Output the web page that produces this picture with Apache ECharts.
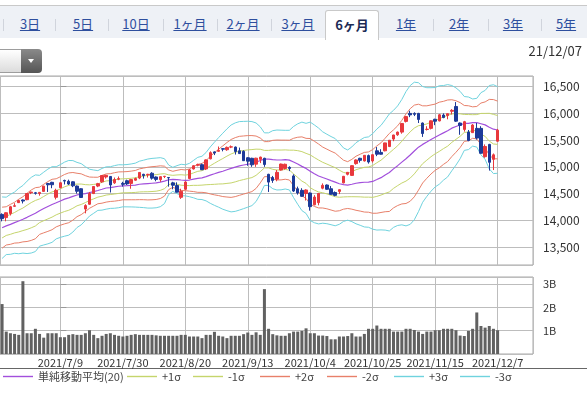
<!DOCTYPE html>
<html>
<head>
<meta charset="utf-8">
<script src="https://cdn.jsdelivr.net/npm/echarts@6/dist/echarts.min.js"></script>
<style>
html,body{margin:0;padding:0;background:#fff;width:587px;height:395px;overflow:hidden;font-family:"Noto Sans CJK JP","Noto Sans",sans-serif}
#chart{position:absolute;left:0;top:0;width:587px;height:395px}
#tabs{position:absolute;left:0;top:5px;width:587px;height:32px;background:#eef1f6;border-top:1px solid #c9c9c9;z-index:2}
.tab{position:absolute;top:10px;transform:translateX(-50%);font-size:13px;line-height:16px;color:#2e4f9e;text-decoration:underline;white-space:nowrap}
.sep{position:absolute;top:13px;width:1px;height:12px;background:#d0d4dc}
#active{position:absolute;left:325px;top:4px;width:52px;height:29px;background:#fff;border:1px solid #c9c9c9;border-bottom:none;border-radius:3px 3px 0 0}
#active span{position:absolute;left:50%;top:6px;transform:translateX(-50%);font-size:13px;line-height:16px;font-weight:bold;color:#1c2b55;white-space:nowrap}
#dd{position:absolute;left:-6px;top:49px;width:48px;height:24px;z-index:2}
#ddl{position:absolute;left:0;top:0;width:27px;height:22px;border:1px solid #9d9d9d;border-right:none;background:linear-gradient(#ffffff,#dcdcdc);border-radius:4px 0 0 4px}
#ddr{position:absolute;left:27px;top:0;width:21px;height:24px;background:linear-gradient(#8a8a8a,#555);border-radius:0 4px 4px 0}
#ddr:after{content:"";position:absolute;left:7px;top:10px;border-left:3.5px solid transparent;border-right:3.5px solid transparent;border-top:4px solid #fff}
</style>
</head>
<body>
<div id="chart"></div>
<div id="tabs">
  <div class="sep" style="left:3px"></div>
  <span class="tab" style="left:30px">3日</span>
  <div class="sep" style="left:55px"></div>
  <span class="tab" style="left:83px">5日</span>
  <div class="sep" style="left:108px"></div>
  <span class="tab" style="left:136px">10日</span>
  <div class="sep" style="left:163px"></div>
  <span class="tab" style="left:190px">1ヶ月</span>
  <div class="sep" style="left:217px"></div>
  <span class="tab" style="left:243px">2ヶ月</span>
  <div class="sep" style="left:271px"></div>
  <span class="tab" style="left:298px">3ヶ月</span>
  <div id="active"><span>6ヶ月</span></div>
  <span class="tab" style="left:406px">1年</span>
  <div class="sep" style="left:433px"></div>
  <span class="tab" style="left:459px">2年</span>
  <div class="sep" style="left:488px"></div>
  <span class="tab" style="left:513px">3年</span>
  <div class="sep" style="left:541px"></div>
  <span class="tab" style="left:566px">5年</span>
</div>
<div id="dd"><div id="ddl"></div><div id="ddr"></div></div>
<script>
// ---- data ----
const dates = ['6/18','6/21','6/22','6/23','6/24','6/25','6/28','6/29','6/30','7/1',
'7/2','7/6','7/7','7/8','7/9','7/12','7/13','7/14','7/15','7/16',
'7/19','7/20','7/21','7/22','7/23','7/26','7/27','7/28','7/29','7/30',
'8/2','8/3','8/4','8/5','8/6','8/9','8/10','8/11','8/12','8/13',
'8/16','8/17','8/18','8/19','8/20','8/23','8/24','8/25','8/26','8/27',
'8/30','8/31','9/1','9/2','9/3','9/7','9/8','9/9','9/10','9/13',
'9/14','9/15','9/16','9/17','9/20','9/21','9/22','9/23','9/24','9/27',
'9/28','9/29','9/30','10/1','10/4','10/5','10/6','10/7','10/8','10/11',
'10/12','10/13','10/14','10/15','10/18','10/19','10/20','10/21','10/22','10/25',
'10/26','10/27','10/28','10/29','11/1','11/2','11/3','11/4','11/5','11/8',
'11/9','11/10','11/11','11/12','11/15','11/16','11/17','11/18','11/19','11/22',
'11/23','11/24','11/26','11/29','11/30','12/1','12/2','12/3','12/6','12/7'];

const open = [14110,14050,14127,14262,14330,14380,14385,14515,14515,14500,
14540,14688,14710,14430,14610,14745,14730,14720,14640,14590,
14210,14300,14500,14640,14720,14810,14820,14700,14770,14690,
14740,14690,14750,14790,14860,14850,14880,14810,14760,14820,
14800,14700,14650,14430,14580,14780,14960,15030,15040,14960,
15150,15280,15290,15340,15320,15370,15370,15300,15290,15170,
15160,15050,15140,15160,14860,14800,14770,14940,14970,14990,
14830,14590,14560,14500,14510,14290,14330,14600,14660,14590,
14520,14540,14700,14860,14840,15060,15160,15110,15210,15110,
15300,15270,15300,15380,15520,15600,15650,15850,16000,16000,
16000,15820,15700,15720,15890,15860,15970,15960,16040,16130,
15820,15700,15650,15640,15720,15720,15190,15420,15140,15480];

const close = [14030,14141,14253,14272,14370,14360,14501,14528,14504,14522,
14639,14664,14665,14560,14702,14733,14678,14645,14543,14427,
14275,14499,14632,14685,14837,14841,14661,14763,14778,14673,
14681,14761,14781,14895,14836,14860,14788,14765,14816,14823,
14794,14656,14526,14542,14715,14943,15020,15042,14946,15130,
15266,15259,15309,15331,15364,15374,15287,15248,15115,15106,
15038,15162,15182,15044,14714,14746,14897,15052,15048,14970,
14547,14512,14449,14567,14255,14434,14502,14654,14580,14486,
14466,14572,14823,14897,15022,15129,15122,15216,15090,15227,
15236,15236,15448,15498,15596,15650,15812,15940,15972,15982,
15887,15623,15704,15861,15854,15974,15922,15994,16057,15855,
15775,15845,15492,15783,15538,15254,15381,15085,15225,15687];

const high = [14130,14150,14270,14320,14385,14390,14507,14535,14530,14530,
14645,14700,14720,14590,14710,14760,14760,14730,14650,14600,
14300,14530,14640,14700,14840,14850,14825,14800,14820,14720,
14760,14770,14800,14900,14870,14870,14900,14820,14820,14830,
14810,14720,14710,14590,14730,14960,15030,15060,15060,15140,
15290,15290,15380,15350,15380,15400,15380,15360,15310,15180,
15170,15170,15190,15170,14870,14830,14940,15060,15060,15010,
14860,14630,14600,14580,14520,14470,14510,14690,14670,14640,
14540,14580,14830,14900,15030,15140,15170,15220,15230,15230,
15370,15330,15450,15500,15600,15660,15820,15950,16050,16020,
16010,15830,15760,15870,15900,15990,16000,16000,16080,16212,
15830,15860,15690,15800,15820,15760,15420,15430,15250,15710];

const low = [13980,13980,14090,14250,14325,14315,14375,14490,14480,14460,
14537,14530,14600,14390,14600,14670,14660,14620,14500,14420,
14130,14290,14490,14620,14700,14780,14520,14680,14750,14630,
14660,14590,14740,14770,14780,14800,14760,14730,14720,14790,
14630,14580,14520,14400,14570,14770,14950,15010,14940,14940,
15140,15220,15280,15290,15300,15350,15230,15240,15110,15020,
15000,15000,15070,15000,14530,14700,14730,14930,14950,14920,
14530,14480,14440,14370,14180,14280,14280,14580,14570,14480,
14450,14490,14690,14840,14830,15040,15080,15100,15060,15080,
15200,15230,15290,15370,15480,15580,15620,15830,15930,15950,
15820,15560,15680,15700,15780,15850,15910,15890,15980,15840,
15600,15660,15480,15640,15510,15250,15170,14930,14940,15470];

// volume, in billions
const volume = [2.14,0.96,0.89,0.86,0.82,3.12,0.89,0.89,1.08,0.86,
0.70,0.89,0.89,0.89,0.72,0.72,0.82,0.85,0.82,0.82,
0.89,1.02,0.82,0.68,0.78,0.86,0.89,0.82,0.78,0.75,
0.78,0.82,0.85,0.82,0.82,0.82,0.82,0.80,0.78,0.78,
0.78,0.78,0.78,0.82,0.82,0.75,0.75,0.75,0.68,0.82,
0.82,0.95,0.78,0.75,0.68,0.78,0.78,0.78,0.85,0.92,
0.82,0.93,0.82,2.78,1.08,0.85,0.80,0.78,0.78,0.89,
0.96,0.96,0.99,1.10,0.89,0.89,0.79,0.79,0.77,0.63,
0.63,0.75,0.75,0.77,0.89,0.75,0.75,0.86,1.08,1.08,
1.22,1.08,1.08,1.08,0.96,0.96,0.96,1.08,1.08,1.03,
0.96,0.86,0.96,0.96,1.02,1.02,1.08,1.08,1.08,1.02,
0.79,0.77,0.99,1.08,1.78,1.20,1.13,1.20,1.08,1.02];

// 20-day simple moving average and its standard deviation
const sma20 = [13861,13895,13924,13955,13986,14018,14055,14095,14132,14178,
14219,14258,14295,14327,14361,14395,14420,14448,14474,14487,
14499,14517,14536,14557,14580,14604,14612,14624,14637,14645,
14647,14652,14658,14674,14681,14687,14693,14699,14713,14732,
14758,14766,14761,14754,14748,14753,14771,14785,14793,14816,
14845,14870,14896,14918,14945,14970,14995,15019,15034,15049,
15061,15086,15119,15144,15144,15134,15128,15128,15134,15126,
15090,15052,15009,14971,14916,14869,14829,14800,14773,14742,
14713,14684,14666,14659,14674,14693,14704,14712,14715,14727,
14762,14798,14848,14895,14962,15022,15088,15152,15222,15297,
15368,15420,15464,15512,15554,15596,15636,15675,15724,15755,
15782,15812,15815,15829,15826,15806,15785,15742,15705,15690];

const sigma = [192,179,187,191,204,211,226,236,239,221,
227,233,236,225,227,231,233,223,203,191,
168,146,135,124,130,132,130,133,134,131,
132,134,137,144,148,153,155,155,153,140,
92,75,87,98,97,104,117,131,135,151,
176,197,217,237,255,271,276,276,272,268,
262,245,210,164,164,181,187,186,183,186,
222,251,276,281,307,305,299,285,279,275,
272,253,229,219,233,253,266,279,282,298,
315,326,344,365,365,373,391,419,433,429,
402,361,339,323,310,307,295,288,266,241,
210,168,164,147,152,194,215,260,277,270];

const xTickLabels = ['2021/7/9','2021/7/30','2021/8/20','2021/9/13','2021/10/4','2021/10/25','2021/11/15','2021/12/7'];
const bandNames = ['+1σ','-1σ','+2σ','-2σ','+3σ','-3σ'];
const bandK = [1,-1,2,-2,3,-3];
const smaName = '単純移動平均(20)';

// ---- chart ----
const EMPTY_SLOTS = 8;
const cats = dates.concat(new Array(EMPTY_SLOTS).fill(''));
const FONT = '"Noto Sans CJK JP","Noto Sans",sans-serif';
const GRID_COLOR = '#bdbdbd';
const BORDER = '#a9a9a9';
const UP = '#e8383d', DOWN = '#1d3a98';
const bandColors = {'+1σ':'#c5d56c','-1σ':'#c5d56c','+2σ':'#e8806a','-2σ':'#e8806a','+3σ':'#6fd3de','-3σ':'#6fd3de'};
const SMA_COLOR = '#a24fdc';

const candles = dates.map((d,i)=>[open[i], close[i], low[i], high[i]]);

const chart = echarts.init(document.getElementById('chart'), null, {renderer:'canvas'});

const gridBase = {left:-1, right:54, show:true, borderColor:BORDER, borderWidth:1, backgroundColor:'#fff'};
const vLineAxis = (gridIndex, showLabels) => ({
  type:'value', gridIndex, position:'bottom',
  min:-14.5, max:cats.length-0.5-14, minInterval:15, maxInterval:15,
  axisLine:{show:false}, axisTick:{show:false},
  splitLine:{show:true, lineStyle:{color:GRID_COLOR, width:1}},
  axisLabel:{show:showLabels, showMinLabel:false, showMaxLabel:false, margin:3,
    fontSize:11, color:'#333', fontFamily:FONT,
    formatter:(v)=>{const k=Math.round(v/15);return (Math.abs(v-15*k)<1e-6&&k>=0&&k<xTickLabels.length)?xTickLabels[k]:'';}}
});

const legends = [
  {name:smaName, left:3},
  {name:'+1σ', left:127},
  {name:'-1σ', left:193},
  {name:'+2σ', left:260},
  {name:'-2σ', left:327},
  {name:'+3σ', left:394},
  {name:'-3σ', left:460}
].map(l=>({data:[l.name], left:l.left, top:371, padding:0, icon:'rect', itemWidth:30, itemHeight:1.4,
  selectedMode:false, textStyle:{fontSize:11, color:'#444', fontFamily:FONT, padding:[0,0,0,0]}}));

const bandSeries = bandNames.map((n,j)=>({
  name:n, type:'line', xAxisIndex:0, yAxisIndex:0, showSymbol:false, symbol:'none', z:3,
  lineStyle:{width:1, color:bandColors[n]}, itemStyle:{color:bandColors[n]},
  data: sma20.map((m,i)=>m + bandK[j]*sigma[i]), silent:true, animation:false
}));

chart.setOption({
  animation:false,
  title:{text:'21/12/07', right:5, top:45, padding:0,
    textStyle:{fontSize:13, fontWeight:'normal', color:'#333', fontFamily:FONT}},
  legend: legends,
  grid:[
    Object.assign({top:76, height:189}, gridBase),
    Object.assign({top:277, height:77}, gridBase)
  ],
  xAxis:[
    {type:'category', gridIndex:0, data:cats, boundaryGap:true,
      axisLine:{show:false}, axisTick:{show:false}, axisLabel:{show:false}, splitLine:{show:false}},
    vLineAxis(0,false),
    {type:'category', gridIndex:1, data:cats, boundaryGap:true,
      axisLine:{show:false}, axisTick:{show:false}, axisLabel:{show:false}, splitLine:{show:false}},
    vLineAxis(1,true)
  ],
  yAxis:[
    {type:'value', gridIndex:0, position:'right', min:13163, max:16700, minInterval:500, maxInterval:500,
      axisLine:{show:false},
      axisTick:{show:true, inside:false, length:6, lineStyle:{color:'#999'}},
      splitLine:{show:true, lineStyle:{color:GRID_COLOR}},
      axisLabel:{show:true, margin:10, showMinLabel:false, showMaxLabel:false, fontSize:12, color:'#333', fontFamily:FONT,
        formatter:(v)=>Math.round(v).toLocaleString('en-US')}},
    {type:'value', gridIndex:1, position:'right', min:0, max:3.3, minInterval:1, maxInterval:1,
      axisLine:{show:false},
      axisTick:{show:true, inside:false, length:6, lineStyle:{color:'#999'}},
      splitLine:{show:true, lineStyle:{color:GRID_COLOR}},
      axisLabel:{show:true, margin:10, showMinLabel:false, showMaxLabel:false, fontSize:11, color:'#333', fontFamily:FONT,
        formatter:(v)=>Math.round(v)+'B'}}
  ],
  graphic:[
    {type:'rect', shape:{x:0, y:368, width:587, height:1}, style:{fill:'#666'}, silent:true}
  ],
  series:[
    {name:smaName, type:'line', xAxisIndex:0, yAxisIndex:0, showSymbol:false, symbol:'none', z:3,
      lineStyle:{width:1.2, color:SMA_COLOR}, itemStyle:{color:SMA_COLOR}, data:sma20, silent:true},
    ...bandSeries,
    {name:'price', type:'candlestick', xAxisIndex:0, yAxisIndex:0, z:5, barWidth:3,
      itemStyle:{color:UP, color0:DOWN, borderColor:UP, borderColor0:DOWN, borderWidth:1},
      data:candles, silent:true},
    {name:'volume', type:'bar', xAxisIndex:2, yAxisIndex:1, barWidth:3, z:3,
      itemStyle:{color:'#616161'}, data:volume, silent:true}
  ]
});
</script>
</body>
</html>
